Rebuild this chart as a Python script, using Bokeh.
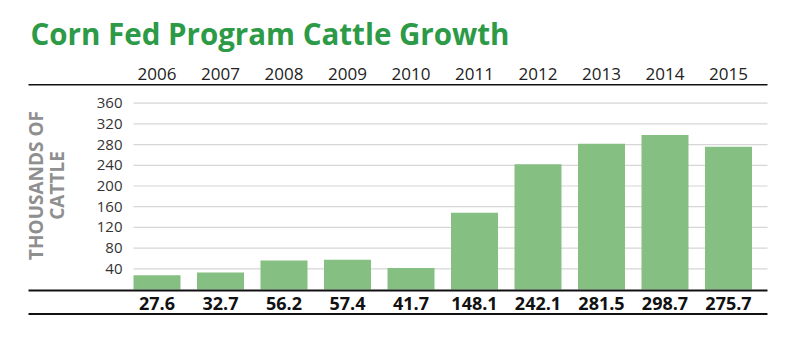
from math import pi
from bokeh.plotting import figure
from bokeh.models import Range1d
from bokeh.core.properties import value
from bokeh.embed import file_html
from bokeh.resources import INLINE

# ---- data ----
years = ["2006", "2007", "2008", "2009", "2010", "2011", "2012", "2013", "2014", "2015"]
cattle = [27.6, 32.7, 56.2, 57.4, 41.7, 148.1, 242.1, 281.5, 298.7, 275.7]
y_ticks = [40, 80, 120, 160, 200, 240, 280, 320, 360]
title_text = "Corn Fed Program Cattle Growth"
y_title = ["THOUSANDS OF", "CATTLE"]

# ---- pixel <-> data mapping ----
X0, DX = 156.5, 63.5   # centre of first bar, spacing between bars (px)
Y0, SY = 289.0, 0.5175  # pixel row of value 0, px per unit
W, H = 800, 346

def dx(px):
    return (px - X0) / DX

def dy(py):
    return (Y0 - py) / SY

FONT = value("Open Sans")

p = figure(width=W, height=H, output_backend="svg", toolbar_location=None,
           x_range=Range1d(dx(0), dx(W)), y_range=Range1d(dy(H), dy(0)),
           min_border=0, min_border_left=0, min_border_right=0,
           min_border_top=0, min_border_bottom=0)
p.axis.visible = False
p.grid.visible = False
p.outline_line_color = None
p.background_fill_color = "white"
p.border_fill_color = "white"

idx = list(range(len(years)))

# gridlines
p.segment(x0=[dx(133)] * len(y_ticks), x1=[dx(767)] * len(y_ticks),
          y0=y_ticks, y1=y_ticks, line_color="#d6d6d6", line_width=1.2)

# bars
p.vbar(x=idx, top=cattle, bottom=0, width=0.74,
       fill_color="#86bf82", line_color=None)

# rules
for py, lw in [(84.3, 1.6), (290, 2.2), (313.5, 2.2)]:
    p.segment(x0=[dx(28)], x1=[dx(767)], y0=[dy(py)], y1=[dy(py)],
              line_color="#111111", line_width=lw)

# year labels (top)
p.text(x=idx, y=[dy(73)] * len(idx), text=years, text_font=FONT,
       text_font_size="17px", text_align="center", text_baseline="alphabetic",
       text_color="#222222")

# value labels (bottom)
p.text(x=idx, y=[dy(302.5)] * len(idx), text=[f"{v:.1f}" for v in cattle],
       text_font=FONT, text_font_size="18px", text_font_style="bold",
       text_align="center", text_baseline="alphabetic", text_color="#111111")

# y tick labels
p.text(x=[dx(122)] * len(y_ticks), y=y_ticks, text=[str(t) for t in y_ticks],
       text_font=FONT, text_font_size="15px", text_align="right",
       text_baseline="middle", text_color="#333333")

# y-axis title
p.text(x=[dx(35), dx(56)], y=[dy(185), dy(185)], text=y_title, angle=pi / 2,
       text_font=FONT, text_font_size="19px", text_font_style="bold",
       text_align="center", text_baseline="middle", text_color="#8f8f8f")

# chart title
p.text(x=[dx(30)], y=[dy(33)], text=[title_text], text_font=FONT,
       text_font_size="29.5px", text_font_style="bold", text_align="left",
       text_baseline="alphabetic", text_color="#2c9a46")

open("out.html", "w").write(file_html(p, INLINE))
